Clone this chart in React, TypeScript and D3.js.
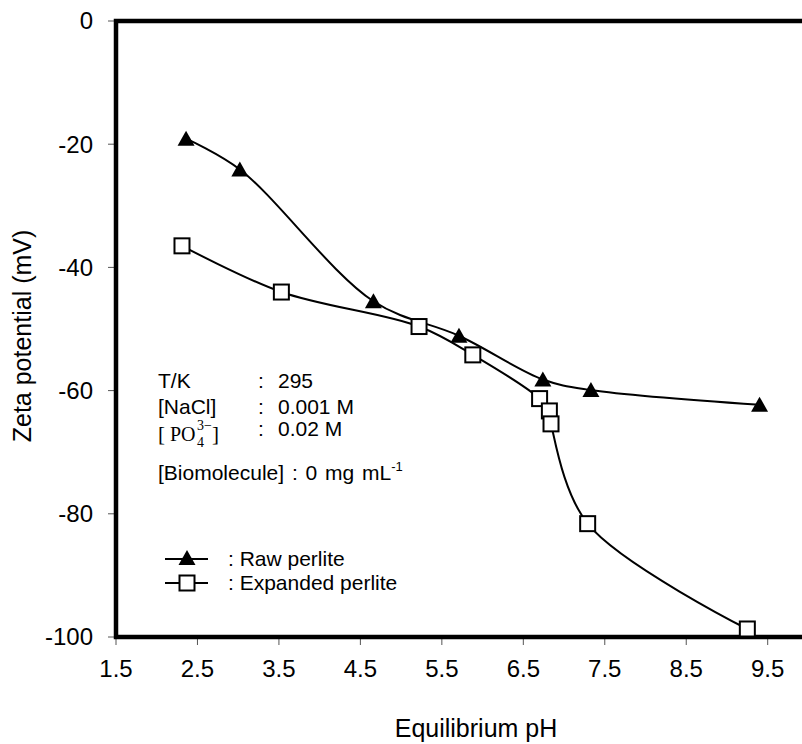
import React from "react";
import * as d3 from "d3";

const rawPH = [2.36, 3.02, 4.66, 5.71, 6.74, 7.33, 9.4];
const rawZeta = [-19.1, -24.1, -45.5, -51.1, -58.2, -59.9, -62.3];
const expPH = [2.31, 3.53, 5.22, 5.88, 6.7, 6.82, 6.84, 7.29, 9.25];
const expZeta = [-36.5, -44.0, -49.6, -54.2, -61.3, -63.3, -65.4, -81.6, -98.7];
const xTicks = [1.5, 2.5, 3.5, 4.5, 5.5, 6.5, 7.5, 8.5, 9.5];
const yTicks = [0, -20, -40, -60, -80, -100];

const W = 802;
const H = 744;
const left = 116;
const top = 21;
const bottom = 637;

export default function App() {
  const x = d3.scaleLinear().domain([1.5, 9.5]).range([left, 767.7]);
  const y = d3.scaleLinear().domain([0, -100]).range([top, bottom]);
  const right = x(10.02);
  const line = d3
    .line<[number, number]>()
    .x((d) => x(d[0]))
    .y((d) => y(d[1]))
    .curve(d3.curveCatmullRom.alpha(0.5));
  const rawPts: [number, number][] = rawPH.map((p, i) => [p, rawZeta[i]]);
  const expPts: [number, number][] = expPH.map((p, i) => [p, expZeta[i]]);
  const font = "Arial, 'Liberation Sans', sans-serif";
  const serif = "'Times New Roman', 'Liberation Serif', serif";
  const tri = (cx: number, cy: number, k: number) => (
    <path
      key={k}
      d={`M${cx},${cy - 8} L${cx + 8.5},${cy + 7} L${cx - 8.5},${cy + 7} Z`}
      fill="#000"
    />
  );
  const sq = (cx: number, cy: number, k: number) => (
    <rect key={k} x={cx - 7.5} y={cy - 7.5} width={15} height={15} fill="#fff" stroke="#000" strokeWidth={2} />
  );
  return (
    <svg
      width={W}
      height={H}
      style={{ position: "absolute", left: 0, top: 0, background: "#fff" }}
      fontFamily={font}
    >
      <rect x={0} y={0} width={W} height={H} fill="#fff" />
      {yTicks.map((t) => (
        <g key={"y" + t}>
          <line x1={left - 8} x2={left} y1={y(t)} y2={y(t)} stroke="#555" strokeWidth={1} />
          <text x={93} y={y(t)} dy="0.35em" textAnchor="end" fontSize={24}>
            {t}
          </text>
        </g>
      ))}
      {xTicks.map((t) => (
        <g key={"x" + t}>
          <line x1={x(t)} x2={x(t)} y1={bottom} y2={bottom + 8} stroke="#555" strokeWidth={1} />
          <text x={x(t)} y={677} textAnchor="middle" fontSize={24}>
            {t.toFixed(1)}
          </text>
        </g>
      ))}
      <rect x={left} y={top} width={right - left} height={bottom - top} fill="none" stroke="#000" strokeWidth={4.5} />
      <text x={476} y={737} textAnchor="middle" fontSize={25}>
        Equilibrium pH
      </text>
      <text transform="translate(31,336) rotate(-90)" textAnchor="middle" fontSize={25}>
        Zeta potential (mV)
      </text>
      <path d={line(rawPts) || ""} fill="none" stroke="#000" strokeWidth={2} />
      <path d={line(expPts) || ""} fill="none" stroke="#000" strokeWidth={2} />
      {rawPts.map((d, i) => tri(x(d[0]), y(d[1]), i))}
      {expPts.map((d, i) => sq(x(d[0]), y(d[1]), i))}
      <g fontSize={21}>
        <text x={158} y={388}>T/K</text>
        <text x={258} y={388}>:</text>
        <text x={278} y={388}>295</text>
        <text x={158} y={414}>[NaCl]</text>
        <text x={258} y={414}>:</text>
        <text x={278} y={414}>0.001 M</text>
        <g fontFamily={serif}>
          <text x={158} y={441} fontSize={21}>[</text>
          <text x={170} y={441} fontSize={20}>PO</text>
          <text x={197} y={447} fontSize={14}>4</text>
          <text x={197} y={430} fontSize={14}>3−</text>
          <text x={212} y={441} fontSize={21}>]</text>
        </g>
        <text x={258} y={436}>:</text>
        <text x={278} y={436}>0.02 M</text>
        <text x={158} y={480} wordSpacing={2}>
          [Biomolecule] : 0 mg mL
          <tspan fontSize={13} dy={-9}>-1</tspan>
        </text>
      </g>
      <line x1={165} x2={208} y1={559} y2={559} stroke="#000" strokeWidth={2} />
      {tri(187, 558, 100)}
      <text x={228} y={566} fontSize={21}>: Raw perlite</text>
      <line x1={165} x2={208} y1={583} y2={583} stroke="#000" strokeWidth={2} />
      {sq(187, 583, 101)}
      <text x={228} y={590} fontSize={21}>: Expanded perlite</text>
    </svg>
  );
}
